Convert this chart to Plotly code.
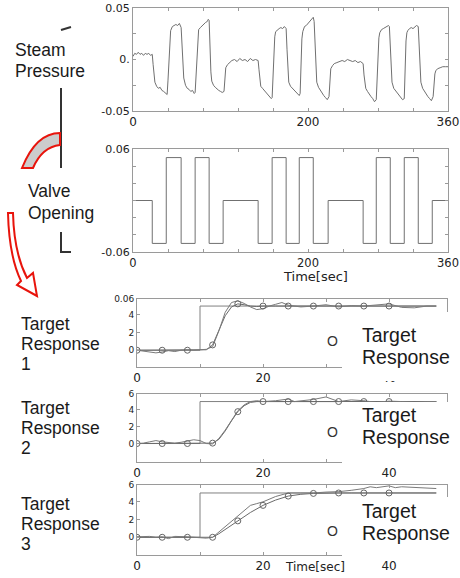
import plotly.graph_objects as go

W, H = 460, 578

# ---------------- data ----------------
press_t = [0,2,4,6,8,10,12,14,16,18,20,22,
           23,24,25,27,29,31,33,35,37,39,
           40,41,42,43,45,47,49,51,53,55,
           56,57,58,60,62,64,66,68,70,71,
           72,73,74,75,77,79,81,83,85,86,87,
           88,89,90,92,94,96,98,100,102,104,
           105,106,108,110,113,116,119,122,125,128,131,134,137,140,143,
           144,145,146,148,150,152,154,156,158,159,
           160,161,162,163,165,167,169,171,173,175,
           176,177,178,180,182,184,186,188,190,191,
           192,193,194,196,198,200,202,204,206,207,
           208,209,210,212,214,216,218,220,222,224,
           225,226,228,230,233,236,239,242,245,248,251,254,257,260,263,
           264,265,266,268,270,272,274,276,278,
           279,280,281,282,284,286,288,290,292,293,
           294,295,296,298,300,302,304,306,308,310,
           311,312,313,314,316,318,320,322,324,326,
           327,328,329,331,333,335,337,339,341,343,
           344,345,346,348,351,354,357,360]
press_v = [.003,.006,.005,.007,.005,.006,.004,.006,.005,.006,.004,.005,
           -.005,-.015,-.022,-.026,-.028,-.027,-.030,-.031,-.033,-.034,
           -.020,.000,.020,.028,.032,.033,.034,.033,.035,.031,
           .015,-.005,-.018,-.025,-.028,-.029,-.031,-.030,-.033,-.032,
           -.015,.005,.022,.029,.031,.033,.034,.036,.037,.039,.038,
           .010,-.012,-.021,-.025,-.027,-.029,-.030,-.031,-.032,-.031,
           -.012,-.008,-.005,-.003,-.001,.000,-.002,.001,-.001,.000,-.002,.001,-.001,.000,-.001,
           -.010,-.020,-.026,-.028,-.030,-.031,-.034,-.036,-.038,-.037,
           -.010,.012,.022,.027,.029,.030,.031,.030,.032,.030,
           .010,-.012,-.022,-.026,-.028,-.030,-.031,-.034,-.035,-.033,
           -.005,.020,.027,.032,.033,.035,.036,.038,.041,.037,
           .010,-.012,-.022,-.027,-.030,-.032,-.035,-.037,-.039,-.036,
           -.014,-.009,-.006,-.004,-.003,-.002,-.001,-.002,.000,-.001,-.002,-.001,-.003,-.002,-.004,
           -.015,-.024,-.028,-.031,-.034,-.036,-.038,-.041,-.039,
           -.015,.010,.021,.026,.029,.030,.031,.032,.033,.032,
           .010,-.012,-.022,-.028,-.030,-.033,-.035,-.036,-.039,-.038,
           .004,.018,.026,.028,.030,.031,.030,.032,.033,.032,
           .012,-.012,-.022,-.028,-.031,-.034,-.036,-.038,-.040,-.036,
           -.020,-.014,-.011,-.009,-.008,-.007,-.007,-.007]

valve_t = [0,22,38,55,71,87,103,143,159,175,190,206,223,263,278,294,310,326,342,360]
valve_v = [0,-.05,.05,-.05,.05,-.05,0,-.05,.05,-.05,.05,-.05,0,-.05,.05,-.05,.05,-.05,0,0]

step_t = [0, 10, 47.5]
step_v = [0, 5, 5]
mark_t = [0,4,8,12,16,20,24,28,32,36,40]

t1 = [0,2,4,6,8,10,11,12,13,14,15,16,17,18,19,20,22,24,26,28,30,32,34,36,38,40,42,44,46,47.5]
target1 = [0,0,0,0,0,0,0.05,0.6,2.2,3.9,4.9,5.25,5.15,5.0,4.95,5.0,5.0,5.0,5.0,5.0,5.0,5.0,5.0,5.0,5.0,5.0,5.0,5.0,5.0,5.0]
a1_t = [0,1,2,3,4,5,6,7,8,9,10,11,12,13,14,15,16,17,18,19,20,21,22,23,24,26,28,30,32,34,36,38,40,42,44,46,47.5]
a1_v = [0,-0.1,-0.25,-0.3,-0.2,-0.05,-0.15,0.0,0.05,0.0,0.05,0.1,0.4,2.2,4.3,5.4,5.6,5.3,4.9,4.6,4.7,5.0,5.2,5.4,5.1,4.9,5.0,5.15,4.9,5.05,5.0,5.1,5.25,4.85,4.8,5.0,5.0]

t2 = [0,2,4,6,8,10,11,12,13,14,15,16,17,18,19,20,22,24,26,28,30,32,34,36,38,40,42,44,46,47.5]
target2 = [0,0,0,0,0,0,0,0.05,0.5,1.5,2.7,3.8,4.5,4.9,5.0,5.0,5.0,5.0,5.0,5.0,5.0,5.0,5.0,5.0,5.0,5.0,5.0,5.0,5.0,5.0]
a2_t = [0,1,2,3,4,5,6,7,8,9,10,11,12,13,14,15,16,17,18,19,20,22,24,25,26,28,30,31,32,34,36,38,40,42,44,46,47.5]
a2_v = [0,0.05,0.2,0.35,0.2,0.1,0.05,0.15,0.3,0.45,0.35,0.0,-0.05,0.6,1.6,2.8,3.9,4.6,5.0,5.1,5.0,5.1,5.3,5.0,5.1,5.25,5.55,5.3,5.0,5.2,5.1,4.9,5.05,5.0,4.9,5.0,5.0]

t3 = [0,2,4,6,8,10,11,12,13,14,16,18,20,22,24,26,28,30,32,34,36,38,40,42,44,46,47.5]
target3 = [0,0,0,0,0,0,0,0,0.4,0.9,1.85,2.8,3.6,4.2,4.65,4.85,4.95,5.0,5.0,5.0,5.0,5.0,5.0,5.0,5.0,5.0,5.0]
a3_t = [0,2,3,4,5,6,8,10,11,12,13,14,16,18,19,20,22,24,26,28,30,32,34,36,37,38,40,41,42,44,46,47.5]
a3_v = [0.05,0.1,0.0,0.05,-0.15,0.1,0.05,0.0,-0.1,0.0,0.6,1.2,2.3,3.6,3.8,4.0,4.6,5.0,5.0,5.0,5.1,5.15,5.3,5.5,5.7,5.6,5.8,5.6,5.7,5.6,5.55,5.5]

# ---------------- helpers ----------------
def fx(x): return x / W
def fy(y): return 1 - y / H

LINE = '#707070'
FRAME = '#9a9a9a'
TXT = '#222222'

fig = go.Figure()

def line(x, y, ax, shape='linear', color=LINE, width=1):
    fig.add_trace(go.Scatter(x=x, y=y, xaxis='x' + ax, yaxis='y' + ax, mode='lines',
                             line=dict(color=color, width=width, shape=shape),
                             hoverinfo='skip'))

line(press_t, press_v, '')
line(valve_t, valve_v, '2', shape='hv')

panels = [('3', t1, target1, a1_t, a1_v), ('4', t2, target2, a2_t, a2_v), ('5', t3, target3, a3_t, a3_v)]
for ax, tt, tv, at, av in panels:
    line(step_t, step_v, ax, shape='hv', color='#808080')
    line(tt, tv, ax, color='#6a6a6a')
    line(at, av, ax, color='#7a7a7a')
    mx = [t for t in tt if t in mark_t]
    my = [v for t, v in zip(tt, tv) if t in mark_t]
    fig.add_trace(go.Scatter(x=mx, y=my, xaxis='x' + ax, yaxis='y' + ax, mode='markers',
                             marker=dict(symbol='circle-open', size=6, color='#666', line=dict(width=1)),
                             hoverinfo='skip'))

def axis(dom, rng, anchor, tickvals, ticktext, size=12):
    return dict(domain=dom, range=rng, anchor=anchor, showline=True, linecolor=FRAME, linewidth=1,
                mirror='ticks', ticks='inside', ticklen=3, tickcolor=FRAME, showgrid=False,
                zeroline=False, tickmode='array', tickvals=tickvals, ticktext=ticktext, automargin=False,
                tickfont=dict(family='DejaVu Sans', size=size, color=TXT), fixedrange=True)

xt_big = [0,40,80,120,160,200,240,280,320,360]
xt_big_txt = ['0','','','','','200','','','','360']
xt_small = [0,10,20,30,40]
xt_small_txt = ['0','','20','','40']

fig.update_layout(
    template='none',
    width=W, height=H, margin=dict(l=0, r=0, t=0, b=0, pad=0, autoexpand=False),
    paper_bgcolor='white', plot_bgcolor='rgba(0,0,0,0)', showlegend=False,
    xaxis=axis([fx(133), fx(448)], [0, 360], 'y', xt_big, xt_big_txt),
    yaxis=axis([fy(111), fy(8)], [-0.05, 0.05], 'x', [-0.05,-0.025,0,0.025,0.05], ['-0.05','','0.','','0.05'], 11),
    xaxis2=axis([fx(133), fx(448)], [0, 360], 'y2', xt_big, xt_big_txt, 11.5),
    yaxis2=axis([fy(252), fy(149)], [-0.06, 0.06], 'x2', [-0.06,-0.04,-0.02,0,0.02,0.04,0.06], ['-0.06','','','','','','0.06'], 11),
    xaxis3=axis([fx(137), fx(447)], [0, 49.2], 'y3', xt_small, xt_small_txt),
    yaxis3=axis([fy(367), fy(299)], [-1.9, 5.8], 'x3', [0,2,4,5.8], ['0','2','4','0.06'], 9),
    xaxis4=axis([fx(137), fx(447)], [0, 49.2], 'y4', xt_small, xt_small_txt),
    yaxis4=axis([fy(462), fy(394)], [-2.2, 5.9], 'x4', [0,2,4,5.9], ['0','2','4','6'], 9),
    xaxis5=axis([fx(137), fx(447)], [0, 49.2], 'y5', xt_small, xt_small_txt),
    yaxis5=axis([fy(555), fy(485)], [-2.0, 5.9], 'x5', [0,2,4,5.9], ['0','2','4','6'], 9),
)

shapes = []
# white boxes covering lower-right corner of target panels
for y0, y1 in [(312, 381), (402, 466), (497, 561)]:
    shapes.append(dict(type='rect', xref='paper', yref='paper', x0=fx(342), x1=fx(460),
                       y0=fy(y1), y1=fy(y0), fillcolor='white', line=dict(width=0), layer='above'))

def seg(x0, y0, x1, y1, color='#333', width=2):
    shapes.append(dict(type='line', xref='paper', yref='paper', x0=fx(x0), y0=fy(y0), x1=fx(x1), y1=fy(y1),
                       line=dict(color=color, width=width), layer='above'))

seg(61, 30, 71, 27)
seg(61, 88, 61, 168)
seg(61, 232, 61, 252)
seg(60, 252, 71, 252)

def P(x, y):
    return f'{fx(x):.5f},{fy(y):.5f}'

crescent = f'M {P(60,133)} Q {P(36,133)} {P(22,168)} L {P(33,168)} Q {P(42,147)} {P(60,145)} Z'
shapes.append(dict(type='path', xref='paper', yref='paper', path=crescent, fillcolor='#cccccc',
                   line=dict(color='#e8140c', width=2), layer='above'))
arrow = (f'M {P(8,213)} Q {P(9,256)} {P(21,281)} L {P(17,285)} L {P(37,296)} L {P(33,273)} '
         f'L {P(27,278)} Q {P(14,253)} {P(13,213)} Z')
shapes.append(dict(type='path', xref='paper', yref='paper', path=arrow, fillcolor='white',
                   line=dict(color='#e8140c', width=2), layer='above'))
fig.update_layout(shapes=shapes)

ann = []
def text(x, y, s, size, family='Liberation Sans, Arial', color='#1a1a1a', anchor='left'):
    ann.append(dict(x=fx(x), y=fy(y), xref='paper', yref='paper', text=s, showarrow=False,
                    xanchor=anchor, yanchor='middle', borderpad=0,
                    font=dict(family=family, size=size, color=color)))

text(14, 50, 'Steam', 17.5)
text(14, 71, 'Pressure', 17.5)
text(27, 191, 'Valve', 17.5)
text(27, 213, 'Opening', 17.5)
for y, n in [(324, '1'), (408, '2'), (504, '3')]:
    text(20, y, 'Target', 17.5)
    text(20, y + 20, 'Response', 17.5)
    text(20, y + 40, n, 17.5)
for yc, yt in [(341, 335), (432, 415), (531, 511)]:
    text(332, yc, 'O', 14, color='#333', anchor='center')
    text(361, yt, 'Target', 19.5)
    text(361, yt + 22, 'Response', 19.5)
text(315, 276, 'Time[sec]', 13, family='DejaVu Sans', color=TXT, anchor='center')
text(315, 567, 'Time[sec]', 12, family='DejaVu Sans', color=TXT, anchor='center')
fig.update_layout(annotations=ann)

fig.write_html('out.html', config={'displayModeBar': False},
               post_script="document.body.style.margin='0';document.body.style.padding='0';"
                           "document.documentElement.style.overflow='hidden';")
